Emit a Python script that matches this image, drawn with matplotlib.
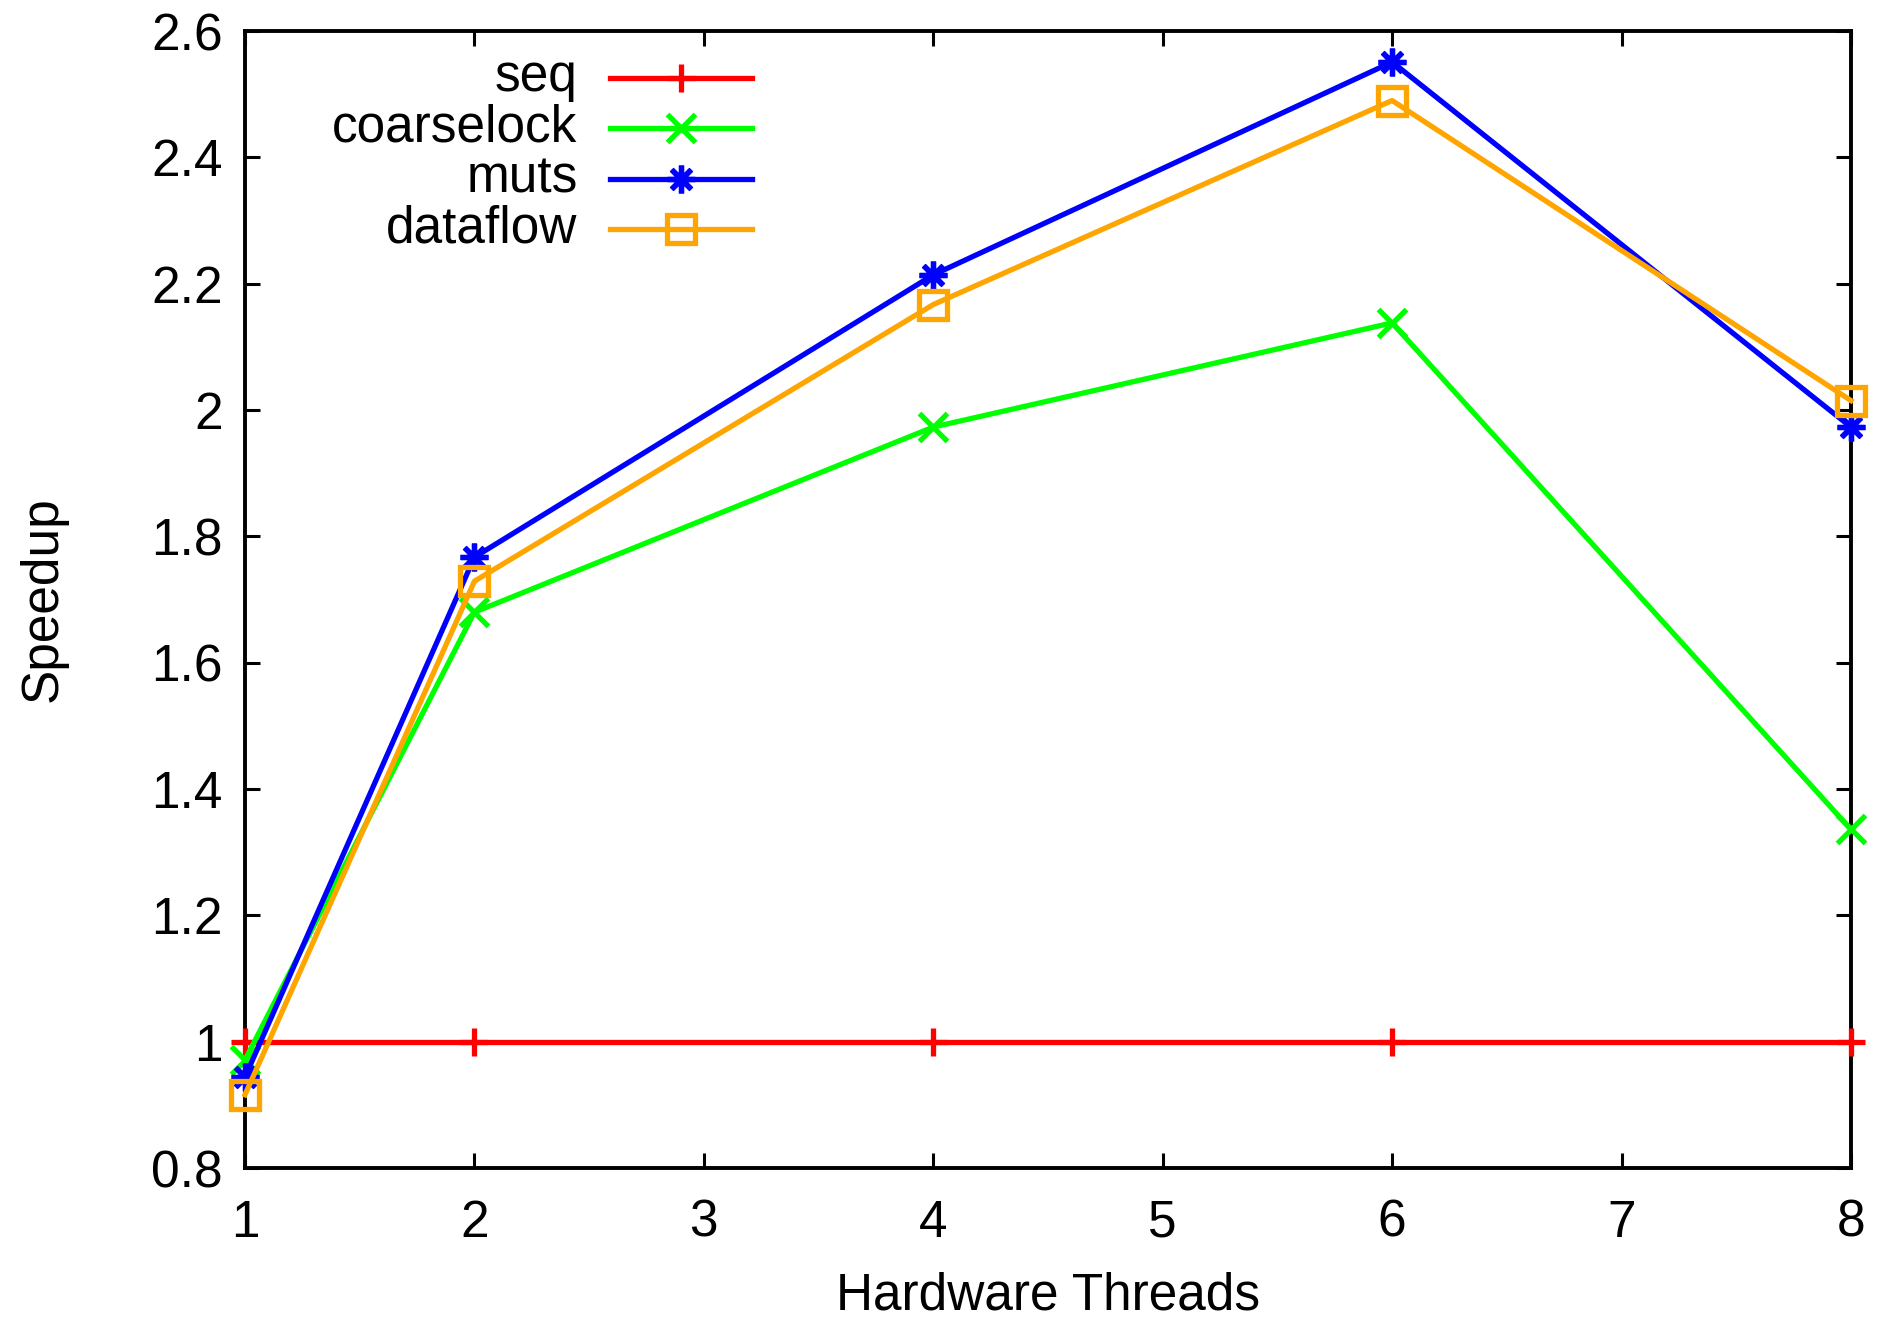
import matplotlib
matplotlib.use("Agg")
import matplotlib.pyplot as plt

threads = [1, 2, 4, 6, 8]
seq = [1.0, 1.0, 1.0, 1.0, 1.0]
coarselock = [0.971, 1.68, 1.973, 2.138, 1.336]
muts = [0.944, 1.767, 2.214, 2.551, 1.973]
dataflow = [0.916, 1.729, 2.167, 2.49, 2.015]

labels = ["seq", "coarselock", "muts", "dataflow"]
colors = ["#ff0000", "#00ff00", "#0000ff", "#ffa500"]
markers = ["+", "x", (8, 2, 0), "s"]

plt.rcParams["font.family"] = ["Liberation Sans", "DejaVu Sans"]
plt.rcParams["font.size"] = 37

fig = plt.figure(figsize=(18.83, 13.21), dpi=100)
ax = fig.add_axes([0.1301, 0.1158, 0.983 - 0.1301, 0.9765 - 0.1158])

series = [seq, coarselock, muts, dataflow]
for vals, lab, col, mk in zip(series, labels, colors, markers):
    ax.plot(threads, vals, color=col, lw=3.8, marker=mk, ms=20, mew=3.8,
            mfc="none", clip_on=False, zorder=3)

ax.set_xlim(1, 8)
ax.set_ylim(0.8, 2.6)
ax.set_xticks(range(1, 9))
ax.set_yticks([0.8, 1.0, 1.2, 1.4, 1.6, 1.8, 2.0, 2.2, 2.4, 2.6])
ax.set_yticklabels(["0.8", "1", "1.2", "1.4", "1.6", "1.8", "2", "2.2", "2.4", "2.6"])
ax.tick_params(direction="in", length=11, width=2.2, top=True, right=True)
ax.tick_params(axis="y", pad=16)
ax.tick_params(axis="x", pad=22)
for sp in ax.spines.values():
    sp.set_linewidth(2.8)

ax.set_xlabel("Hardware Threads", va="baseline")
ax.xaxis.set_label_coords(0.5, -0.1244)
ax.set_ylabel("Speedup", labelpad=60)

# legend drawn by hand: label right-aligned, sample to its right
y0, dy = 0.9588, 0.0443
for i, (lab, col, mk) in enumerate(zip(labels, colors, markers)):
    y = y0 - i * dy
    ax.text(0.2072, y, lab, transform=ax.transAxes, ha="right", va="center")
    ax.plot([0.2274, 0.3156], [y, y], color=col, lw=3.8, transform=ax.transAxes)
    ax.plot([0.2715], [y], color=col, marker=mk, ms=20, mew=3.8, mfc="none",
            transform=ax.transAxes)

fig.savefig("out.png", dpi=100)
